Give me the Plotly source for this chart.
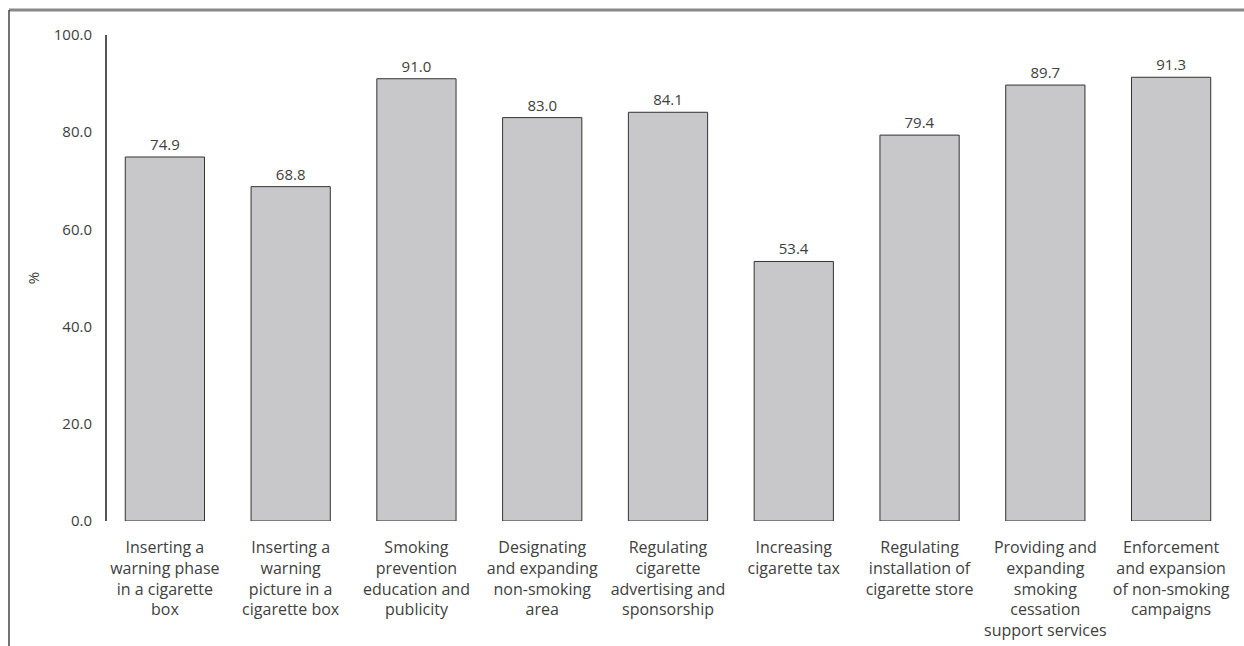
import plotly.graph_objects as go

categories = [
    "Inserting a<br>warning phase<br>in a cigarette<br>box",
    "Inserting a<br>warning<br>picture in a<br>cigarette box",
    "Smoking<br>prevention<br>education and<br>publicity",
    "Designating<br>and expanding<br>non-smoking<br>area",
    "Regulating<br>cigarette<br>advertising and<br>sponsorship",
    "Increasing<br>cigarette tax",
    "Regulating<br>installation of<br>cigarette store",
    "Providing and<br>expanding<br>smoking<br>cessation<br>support services",
    "Enforcement<br>and expansion<br>of non-smoking<br>campaigns",
]
values = [74.9, 68.8, 91.0, 83.0, 84.1, 53.4, 79.4, 89.7, 91.3]
y_ticks = [0, 20, 40, 60, 80, 100]
y_tick_labels = ["0.0", "20.0", "40.0", "60.0", "80.0", "100.0"]

W, H = 1244, 646
L, R, T, B = 102, 10, 35, 125
plot_w = W - L - R
plot_h = H - T - B

TEXT = "#404040"
FONT = "Open Sans"

fig = go.Figure(
    go.Bar(
        x=categories,
        y=values,
        text=[f"{v:.1f}" for v in values],
        textposition="outside",
        textfont=dict(family=FONT, size=15, color=TEXT),
        cliponaxis=False,
        marker=dict(color="#c8c8ca", line=dict(color="#333333", width=1)),
        hoverinfo="skip",
    )
)

fig.update_layout(
    width=W,
    height=H,
    margin=dict(l=L, r=R, t=T, b=B, pad=0),
    paper_bgcolor="white",
    plot_bgcolor="white",
    bargap=0.37,
    showlegend=False,
    font=dict(family=FONT, size=15, color=TEXT),
    xaxis=dict(
        automargin=False,
        showgrid=False,
        showline=False,
        ticks="",
        ticklabelstandoff=15,
        tickfont=dict(family=FONT, size=16, color=TEXT),
        fixedrange=True,
    ),
    yaxis=dict(
        automargin=False,
        range=[0, 100],
        tickvals=y_ticks,
        ticktext=y_tick_labels,
        showgrid=False,
        zeroline=False,
        showline=False,
        ticks="",
        ticklabelstandoff=9,
        tickfont=dict(family=FONT, size=15, color=TEXT),
        title=dict(text="%", font=dict(family=FONT, size=15, color=TEXT), standoff=10),
        fixedrange=True,
    ),
)

# vertical value axis line
axis_x = (106 - L) / plot_w
fig.add_shape(type="line", xref="paper", yref="paper",
              x0=axis_x, x1=axis_x, y0=0, y1=1,
              line=dict(color="#555555", width=2))

# frame around the figure: top edge and left edge
top_y = 1 + (T - 10) / plot_h
left_x = (9 - L) / plot_w
fig.add_shape(type="line", xref="paper", yref="paper",
              x0=left_x, x1=1 + R / plot_w, y0=top_y, y1=top_y,
              line=dict(color="#888888", width=3))
fig.add_shape(type="line", xref="paper", yref="paper",
              x0=left_x, x1=left_x, y0=top_y, y1=-0.4,
              line=dict(color="#444444", width=1.5))

fig.write_html("out.html")
